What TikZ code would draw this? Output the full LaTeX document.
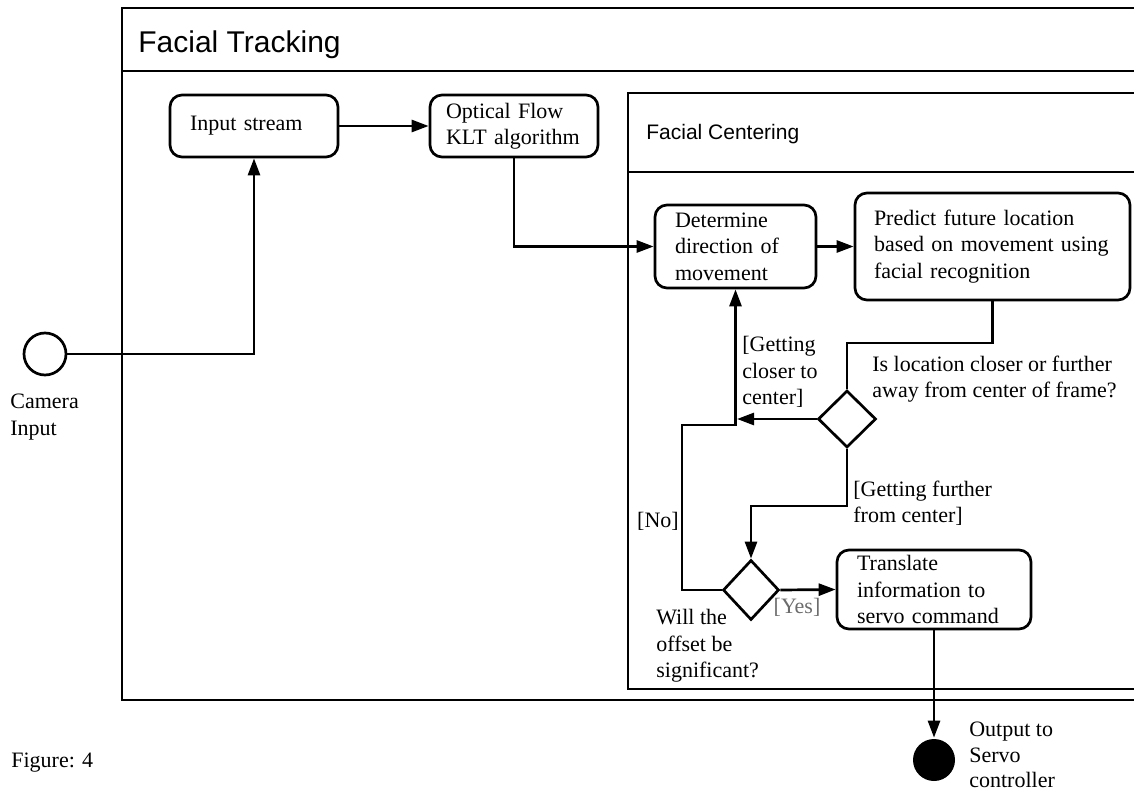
\documentclass[tikz,border=0pt]{standalone}
\usepackage{fontspec}
\setmainfont{Liberation Serif}
\newfontfamily\sansf{Liberation Sans}
\usetikzlibrary{arrows.meta,shapes.geometric,calc}
\begin{document}
\begin{tikzpicture}[x=1pt,y=-1pt,
  line width=2.7pt,
  every node/.style={font=\fontsize{22}{26.5}\selectfont, inner sep=0pt},
  box/.style={draw, rounded corners=12pt, align=left, inner ysep=2pt},
  decision/.style={draw, diamond, inner sep=0pt},
  lbl/.style={align=left, anchor=west},
  arr/.style={-{Triangle[length=17pt,width=12pt]}},
  frametitle/.style={anchor=west, font=\sansf}
]
\useasboundingbox (0,0) rectangle (1134,791);
\clip (0,0) rectangle (1134,791);

% outer frame
\draw (122,8) rectangle (1160,700);
\draw (122,71) -- (1160,71);
\node[frametitle, font=\sansf\fontsize{30}{34}\selectfont] (ttrack) at (137,45) {Facial Tracking};

% inner frame
\draw (628,93) rectangle (1160,689);
\draw (628,172) -- (1160,172);
\node[frametitle, font=\sansf\fontsize{21}{25}\selectfont] (tcenter) at (645,134) {Facial Centering};

% nodes
\node[box, text width=128pt, inner xsep=20pt, minimum height=62pt] (input) at (254,126) {Input stream};
\node[box, text width=136pt, inner xsep=16pt, minimum height=62pt] (optical) at (514,126) {Optical Flow\\KLT algorithm};
\node[box, text width=121pt, inner xsep=20pt, minimum height=83pt] (determine) at (735.5,246.5) {Determine\\direction of\\movement};
\node[box, text width=237pt, inner xsep=19pt, minimum height=107pt] (predict) at (992.5,246.5) {Predict future location\\based on movement using\\facial recognition};
\node[box, text width=154pt, inner xsep=20pt, minimum height=79pt] (translate) at (934,589.5) {Translate\\information to\\servo command};

\node[decision, minimum width=58pt, minimum height=57pt] (dec1) at (847,419) {};
\node[decision, minimum width=56pt, minimum height=60pt] (dec2) at (751,590) {};

\node[circle, draw, minimum size=42pt] (cam) at (45,354) {};
\node[circle, fill, minimum size=42pt] (out) at (934,760) {};

% junction coordinates
\coordinate (j1) at (847,343);
\coordinate (j2) at (737,419);
\coordinate (j3) at (682,425);
\coordinate (j4) at (751,506);

% connectors
\draw[arr] (cam.east) -| (input.south);
\draw[arr] (input.east) -- (optical.west);
\draw[arr] (optical.south) |- (determine.west);
\draw[arr] (determine.east) -- (predict.west);
\draw (predict.south) |- (j1) -- (dec1.north);
\draw[arr] (dec1.west) -- (j2);
\draw[arr] (dec2.west) -| (j3) -| (determine.south);
\draw[arr] (dec1.south) |- (j4) -- (dec2.north);
\draw[arr] (dec2.east) -- (translate.west);
\draw[arr] (translate.south) -- (out.north);

% labels
\node[lbl] (lcloser) at (741,372) {[Getting\\closer to\\center]};
\node[lbl] (lq1) at (871,379) {Is location closer or further\\away from center of frame?};
\node[lbl] (lfurther) at (852,503) {[Getting further\\from center]};
\node (lno) at (658,521) {[No]};
\node[lbl] (lq2) at (655,646) {Will the\\offset be\\significant?};
\node[text=gray!85!black] (lyes) at (797,607) {[Yes]};
\node[lbl, font=\fontsize{22}{25.5}\selectfont] (lout) at (968,755) {Output to\\Servo\\controller};
\node[lbl] (lcam) at (9,417) {Camera\\Input};
\node[lbl] (lfig) at (10,763) {Figure: 4};
\end{tikzpicture}
\end{document}
